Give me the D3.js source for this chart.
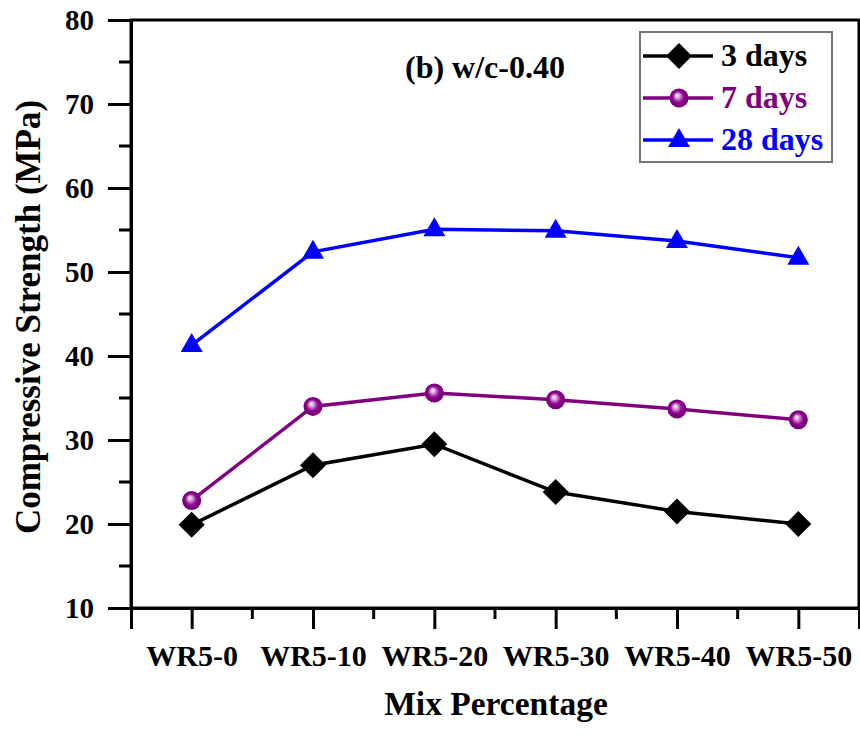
<!DOCTYPE html>
<html>
<head>
<meta charset="utf-8">
<script src="https://cdn.jsdelivr.net/npm/d3@7"></script>
<style>
  body { margin: 0; background: #fff; }
  svg { display: block; font-family: "Liberation Serif", "Times New Roman", serif; font-weight: bold; }
</style>
</head>
<body>
<svg id="chart" width="860" height="735"></svg>
<script>
// data
var mixes = ["WR5-0", "WR5-10", "WR5-20", "WR5-30", "WR5-40", "WR5-50"];
var days3 = [19.9, 27.0, 29.5, 23.8, 21.5, 20.0];
var days7 = [22.8, 34.0, 35.6, 34.8, 33.7, 32.4];
var days28 = [41.3, 52.4, 55.1, 54.9, 53.7, 51.7];
var yTicks = [10, 20, 30, 40, 50, 60, 70, 80];
var seriesNames = ["3 days", "7 days", "28 days"];

var series = [
    {name: seriesNames[0], values: days3, color: "#000000", marker: "diamond"},
    {name: seriesNames[1], values: days7, color: "#800080", marker: "ball"},
    {name: seriesNames[2], values: days28, color: "#0000ff", marker: "triangle"}
];

var svg = d3.select("#chart");
var pLeft = 131, pRight = 859, pTop = 20, pBottom = 608;

var x = d3.scalePoint().domain(mixes).range([pLeft, pRight]).padding(0.5);
var y = d3.scaleLinear().domain([10, 80]).range([pBottom, pTop]);

// gradient for the purple balls
var grad = svg.append("defs").append("radialGradient")
    .attr("id", "ball")
    .attr("cx", "50%").attr("cy", "50%").attr("r", "50%")
    .attr("fx", "40%").attr("fy", "35%");
grad.append("stop").attr("offset", "0%").attr("stop-color", "#ffffff");
grad.append("stop").attr("offset", "25%").attr("stop-color", "#d8a0d8");
grad.append("stop").attr("offset", "60%").attr("stop-color", "#900090");
grad.append("stop").attr("offset", "100%").attr("stop-color", "#700070");

// frame
svg.append("rect")
    .attr("x", pLeft).attr("y", pTop)
    .attr("width", pRight - pLeft).attr("height", pBottom - pTop)
    .attr("fill", "none").attr("stroke", "#000").attr("stroke-width", 3);

// y axis
var yAxis = svg.append("g").attr("transform", "translate(" + pLeft + ",0)")
    .call(d3.axisLeft(y).tickValues(yTicks).tickSize(23).tickPadding(14));
yAxis.select(".domain").attr("stroke-width", 3);
yAxis.selectAll(".tick line").attr("stroke-width", 3);
yAxis.selectAll(".tick text")
    .attr("font-size", 29).attr("font-family", "Liberation Serif").attr("font-weight", "bold").attr("fill", "#000");
var yMinor = d3.range(15, 80, 10);
svg.append("g").selectAll("line").data(yMinor).enter().append("line")
    .attr("x1", pLeft - 12).attr("x2", pLeft)
    .attr("y1", function(d) { return y(d); }).attr("y2", function(d) { return y(d); })
    .attr("stroke", "#000").attr("stroke-width", 3);

// x axis
var xAxis = svg.append("g").attr("transform", "translate(0," + pBottom + ")")
    .call(d3.axisBottom(x).tickSize(21).tickPadding(16));
xAxis.select(".domain").attr("stroke-width", 3);
xAxis.selectAll(".tick line").attr("stroke-width", 3);
xAxis.selectAll(".tick text")
    .attr("font-size", 30).attr("font-family", "Liberation Serif").attr("font-weight", "bold").attr("fill", "#000");
var step = x.step();
var xMinor = mixes.map(function(d) { return x(d) + step / 2; }).slice(0, mixes.length - 1);
svg.append("g").selectAll("line").data(xMinor).enter().append("line")
    .attr("x1", function(d) { return d; }).attr("x2", function(d) { return d; })
    .attr("y1", pBottom).attr("y2", pBottom + 11)
    .attr("stroke", "#000").attr("stroke-width", 3);

// axis titles
svg.append("text")
    .attr("x", 496).attr("y", 715)
    .attr("text-anchor", "middle").attr("font-size", 33.5)
    .text("Mix Percentage");
svg.append("text")
    .attr("transform", "translate(40,317) rotate(-90)")
    .attr("text-anchor", "middle").attr("font-size", 35)
    .text("Compressive Strength (MPa)");

// annotation
svg.append("text")
    .attr("x", 405).attr("y", 78)
    .attr("font-size", 32)
    .text("(b) w/c-0.40");

function drawMarker(g, type, color) {
    if (type == "diamond") {
        g.append("path").attr("d", "M0,-13 L13,0 L0,13 L-13,0 Z").attr("fill", color);
    } else if (type == "ball") {
        g.append("circle").attr("r", 9.5).attr("fill", "url(#ball)");
    } else {
        g.append("path").attr("d", "M0,-12 L11,7 L-11,7 Z").attr("fill", color);
    }
}

var line = d3.line()
    .x(function(d, i) { return x(mixes[i]); })
    .y(function(d) { return y(d); });

series.forEach(function(s) {
    svg.append("path")
        .attr("d", line(s.values))
        .attr("fill", "none")
        .attr("stroke", s.color)
        .attr("stroke-width", 3.5);
    svg.append("g").selectAll("g").data(s.values).enter().append("g")
        .attr("transform", function(d, i) {
            return "translate(" + x(mixes[i]) + "," + y(d) + ")";
        })
        .each(function() { drawMarker(d3.select(this), s.marker, s.color); });
});

// legend
var legend = svg.append("g");
legend.append("rect")
    .attr("x", 640).attr("y", 32).attr("width", 192).attr("height", 130)
    .attr("fill", "#fff").attr("stroke", "#777").attr("stroke-width", 2);
series.forEach(function(s, i) {
    var ly = 56 + i * 42;
    var row = legend.append("g");
    row.append("line")
        .attr("x1", 643).attr("x2", 713).attr("y1", ly).attr("y2", ly)
        .attr("stroke", s.color).attr("stroke-width", 3.5);
    drawMarker(row.append("g").attr("transform", "translate(679," + ly + ")"), s.marker, s.color);
    row.append("text")
        .attr("x", 721).attr("y", ly + 10)
        .attr("font-size", 32).attr("fill", s.color)
        .text(s.name);
});
</script>
</body>
</html>
